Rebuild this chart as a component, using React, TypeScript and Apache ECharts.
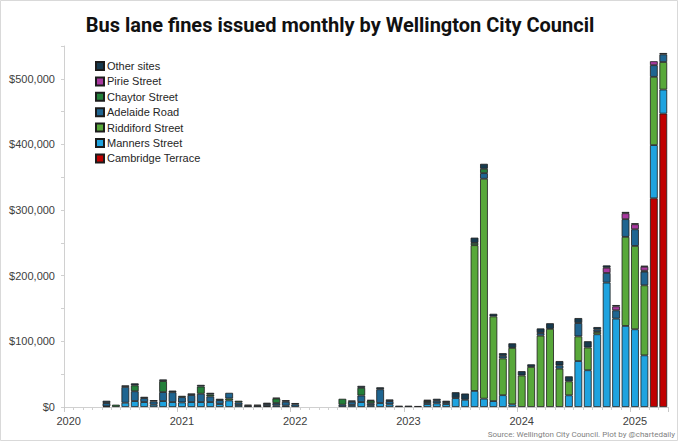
import React, { useEffect, useRef } from "react";
import * as echarts from "echarts";

const years = ["2020", "2021", "2022", "2023", "2024", "2025"];
const months = ["01", "02", "03", "04", "05", "06", "07", "08", "09", "10", "11", "12"];
const lastMonthCount = 4; // Jan-Apr 2025

const cambridgeTerrace = [
  0, 0, 0, 0, 0, 0, 0, 0, 0, 0, 0, 0,
  0, 0, 0, 0, 0, 0, 0, 0, 0, 0, 0, 0,
  0, 0, 0, 0, 0, 0, 0, 0, 0, 0, 0, 0,
  0, 0, 0, 0, 0, 0, 0, 0, 0, 0, 0, 0,
  0, 0, 0, 0, 0, 0, 0, 0, 0, 0, 0, 0,
  0, 0, 318000, 447000,
];
const mannersStreet = [
  0, 0, 0, 0, 1000, 0, 6500, 9000, 7500, 3500, 9000, 7500,
  7000, 7500, 7500, 7500, 4500, 10000, 3000, 0, 0, 1500, 2500, 2000,
  0, 0, 0, 0, 0, 0, 3000, 7500, 2700, 6000, 4000, 0,
  0, 0, 4500, 5500, 4500, 13500, 11000, 24500, 12700, 9000, 18000, 4000,
  0, 0, 0, 0, 0, 17800, 70000, 56000, 110800, 189500, 134600, 123500,
  118400, 78700, 81000, 36600,
];
const riddifordStreet = [
  0, 0, 0, 0, 0, 0, 0, 0, 0, 0, 0, 0,
  0, 0, 0, 0, 0, 3000, 0, 0, 0, 0, 0, 0,
  0, 0, 0, 0, 0, 0, 0, 0, 0, 0, 0, 0,
  0, 0, 0, 0, 0, 0, 0, 222000, 335000, 129000, 56000, 86000,
  48000, 61000, 108700, 119000, 58400, 21300, 37600, 34600, 3500, 0, 0, 135700,
  127000, 106700, 104000, 42000,
];
const adelaideRoad = [
  0, 0, 0, 0, 5000, 0, 24000, 15000, 6000, 5000, 13700, 15000,
  8000, 10700, 12700, 8600, 6000, 8600, 4000, 2000, 2000, 3000, 3500, 6000,
  4000, 0, 0, 0, 0, 3500, 5000, 10000, 3000, 21000, 5000, 0,
  0, 0, 3000, 4000, 3000, 0, 0, 0, 8600, 0, 4000, 0,
  0, 0, 4000, 0, 5000, 0, 20300, 0, 3500, 14700, 12700, 27000,
  25400, 20800, 17800, 11700,
];
const chaytorStreet = [
  0, 0, 0, 0, 0, 3500, 0, 9000, 0, 0, 16800, 0,
  2000, 0, 11000, 3000, 0, 0, 2500, 0, 0, 0, 7000, 0,
  0, 0, 0, 0, 0, 9000, 0, 11700, 4000, 0, 0, 0,
  0, 0, 2000, 0, 0, 0, 0, 3500, 6600, 0, 0, 0,
  0, 0, 0, 0, 0, 0, 0, 0, 0, 0, 0, 0,
  0, 1500, 0, 0,
];
const pirieStreet = [
  0, 0, 0, 0, 0, 0, 0, 0, 0, 0, 0, 0,
  0, 0, 0, 0, 0, 0, 0, 0, 0, 0, 0, 0,
  0, 0, 0, 0, 0, 0, 0, 0, 0, 0, 0, 0,
  0, 0, 0, 0, 0, 0, 0, 0, 0, 0, 0, 0,
  0, 0, 0, 0, 0, 0, 0, 0, 0, 8000, 6000, 9000,
  7600, 6000, 6000, 0,
];
const otherSites = [
  0, 0, 0, 0, 3500, 0, 2500, 3000, 2000, 2000, 2500, 2500,
  0, 2500, 2500, 2500, 2000, 0, 0, 1500, 1500, 2000, 1000, 2500,
  2000, 0, 0, 0, 0, 0, 2000, 3000, 1000, 3000, 2500, 2000,
  2000, 1500, 1500, 3000, 2000, 9000, 9500, 8000, 7600, 4000, 4000, 7000,
  6600, 4000, 7000, 8600, 6600, 7600, 7600, 9600, 4000, 3500, 2000, 2000,
  1500, 1500, 0, 2000,
];

const seriesNames = [
  "Cambridge Terrace",
  "Manners Street",
  "Riddiford Street",
  "Adelaide Road",
  "Chaytor Street",
  "Pirie Street",
  "Other sites",
];
const seriesData = [
  cambridgeTerrace,
  mannersStreet,
  riddifordStreet,
  adelaideRoad,
  chaytorStreet,
  pirieStreet,
  otherSites,
];
const seriesColors = ["#c00000", "#1fa3df", "#58a83a", "#1f6591", "#23803a", "#a8399f", "#173a4e"];

const categories: string[] = [];
years.forEach((y, yi) => {
  const n = yi === years.length - 1 ? lastMonthCount : 12;
  for (let m = 0; m < n; m++) categories.push(y + "-" + months[m]);
});

const FONT = "'Liberation Sans', Arial, sans-serif";
const TITLE_FONT = "Roboto, 'Liberation Sans', sans-serif";

export default function App() {
  const ref = useRef<HTMLDivElement>(null);
  useEffect(() => {
    document.body.style.margin = "0";
    if (!ref.current) return;
    const chart = echarts.init(ref.current, null, { renderer: "svg" });
    const option: any = {
      animation: false,
      backgroundColor: "#ffffff",
      textStyle: { fontFamily: FONT },
      title: {
        text: "Bus lane fines issued monthly by Wellington City Council",
        left: "center",
        top: 10,
        textStyle: { fontFamily: TITLE_FONT, fontSize: 20, fontWeight: "bold", color: "#111111" },
      },
      legend: {
        orient: "vertical",
        left: 90,
        top: 55,
        itemWidth: 8,
        itemHeight: 8,
        itemGap: 3.4,
        icon: "rect",
        data: seriesNames.slice().reverse(),
        textStyle: { fontFamily: FONT, fontSize: 11, color: "#262626", lineHeight: 12, padding: [0, 0, 0, -2] },
      },
      grid: { left: 64, right: 12, top: 46, bottom: 34, containLabel: false },
      xAxis: [
        {
          type: "category",
          data: categories,
          boundaryGap: true,
          axisLine: { lineStyle: { color: "#d0d0d0", width: 1 } },
          axisTick: { show: true, interval: 0, length: 3, lineStyle: { color: "#d0d0d0" } },
          axisLabel: {
            interval: (i: number) => i % 12 === 0,
            formatter: (v: string) => v.slice(0, 4),
            fontFamily: FONT,
            fontSize: 11,
            color: "#404040",
            margin: 8,
          },
        },
        {
          type: "category",
          data: categories,
          boundaryGap: true,
          position: "bottom",
          axisLine: { show: false },
          axisTick: {
            show: true,
            interval: (i: number) => i % 12 === 0,
            length: 5,
            lineStyle: { color: "#c8c8c8" },
          },
          axisLabel: { show: false },
        },
      ],
      yAxis: {
        type: "value",
        min: 0,
        max: 550000,
        interval: 50000,
        splitLine: { show: false },
        axisLine: { show: true, lineStyle: { color: "#d0d0d0" } },
        axisTick: { show: true, length: 3, lineStyle: { color: "#d0d0d0" } },
        axisLabel: {
          formatter: (v: number) => (v % 100000 === 0 ? "$" + v.toLocaleString("en-US") : ""),
          fontFamily: FONT,
          fontSize: 11,
          color: "#404040",
          margin: 9,
        },
      },
      series: seriesNames.map((name, k) => ({
        name,
        type: "bar",
        stack: "total",
        xAxisIndex: 0,
        barCategoryGap: "18%",
        data: seriesData[k].map((v) => (v === 0 ? null : v)),
        itemStyle: { color: seriesColors[k], borderColor: "#1c1c1c", borderWidth: 0.8 },
        emphasis: { disabled: true },
      })),
      graphic: [
        {
          type: "rect",
          shape: { x: 0.5, y: 0.5, width: 677, height: 440 },
          style: { fill: "none", stroke: "#d9d9d9", lineWidth: 1 },
          silent: true,
        },
        {
          type: "text",
          right: 5,
          top: 430,
          style: {
            text: "Source: Wellington City Council. Plot by @chartedaily",
            fontFamily: TITLE_FONT,
            fontSize: 8,
            fill: "#7f7f7f",
          },
        },
      ],
    };
    chart.setOption(option);
    return () => chart.dispose();
  }, []);
  return <div ref={ref} style={{ width: 680, height: 441 }} />;
}
